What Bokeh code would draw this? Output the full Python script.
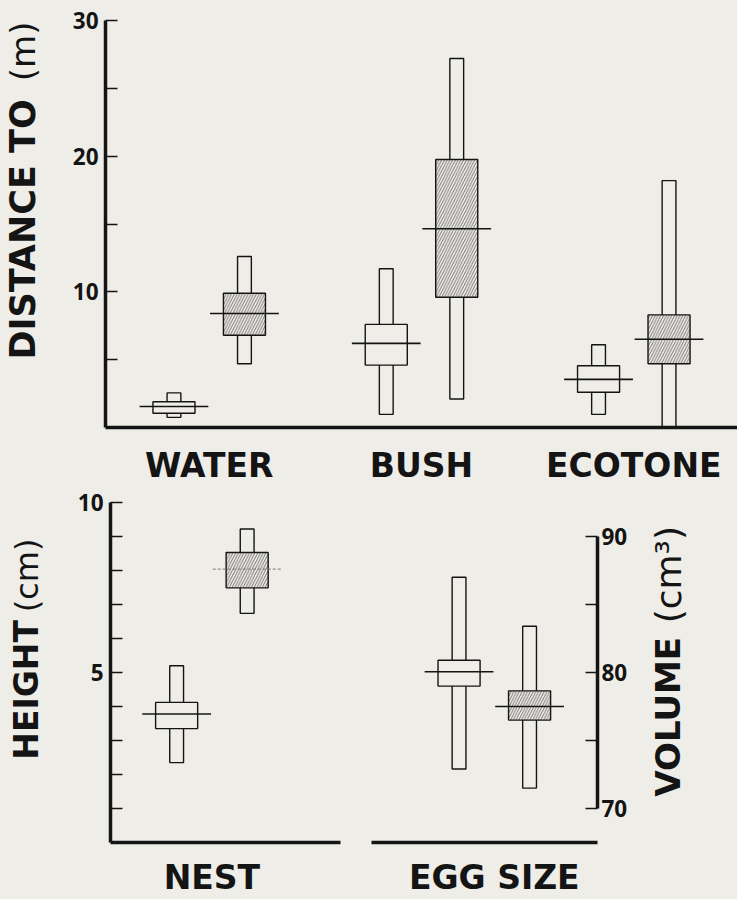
import math
from bokeh.plotting import figure
from bokeh.models import FixedTicker, Range1d
from bokeh.core.properties import value
from bokeh.layouts import column, row
from bokeh.embed import file_html
from bokeh.resources import INLINE

# ---------------- data ----------------
# Top panel: distance (m) from nest to water, bush, ecotone
dist_categories = ["WATER", "BUSH", "ECOTONE"]
dist_ticks = [10, 20, 30]
dist_minor_ticks = [5, 15, 25]
# open symbols
dist_open_min = [0.75, 0.97, 0.97]
dist_open_max = [2.55, 11.7, 6.1]
dist_open_box_lo = [1.05, 4.6, 2.6]
dist_open_box_hi = [1.9, 7.6, 4.55]
dist_open_mean = [1.55, 6.2, 3.55]
# hatched symbols
dist_hatch_min = [4.7, 2.1, 0.0]
dist_hatch_max = [12.6, 27.2, 18.2]
dist_hatch_box_lo = [6.8, 9.6, 4.7]
dist_hatch_box_hi = [9.9, 19.75, 8.3]
dist_hatch_mean = [8.4, 14.65, 6.5]

# Bottom left: nest height (cm)
nest_categories = ["NEST"]
height_ticks = [5, 10]
height_minor_ticks = [1, 2, 3, 4, 6, 7, 8, 9]
nest_open_min = [2.35]
nest_open_max = [5.2]
nest_open_box_lo = [3.35]
nest_open_box_hi = [4.12]
nest_open_mean = [3.78]
nest_hatch_min = [6.74]
nest_hatch_max = [9.22]
nest_hatch_box_lo = [7.49]
nest_hatch_box_hi = [8.53]
nest_hatch_mean = [8.04]

# Bottom right: egg volume (cm3)
egg_categories = ["EGG SIZE"]
volume_ticks = [70, 80, 90]
volume_minor_ticks = [75, 85]
egg_open_min = [72.9]
egg_open_max = [87.0]
egg_open_box_lo = [79.0]
egg_open_box_hi = [80.9]
egg_open_mean = [80.05]
egg_hatch_min = [71.5]
egg_hatch_max = [83.4]
egg_hatch_box_lo = [76.5]
egg_hatch_box_hi = [78.65]
egg_hatch_mean = [77.5]

# axis titles (bold part, light part)
dist_title = ("DISTANCE TO", "(m)")
height_title = ("HEIGHT", "(cm)")
volume_title = ("VOLUME", "(cm³)")

# ---------------- style / layout ----------------
BG = "#efede8"
INK = "#141414"
BOLD_FONT = "DejaVu Sans"
NUM_FONT = "Open Sans"
RANGE_W = 0.065
BOX_W = 0.198
MEAN_HALF = 0.162
PAIR_OFF = 0.166
W, H = 737, 899


def SX(v):
    return v * W / 753.0


def SY(v):
    return v * H / 915.0


def base_fig(width, height, x_range, y_range, borders, y_loc="left"):
    p = figure(width=width, height=height, x_range=x_range, y_range=y_range,
               output_backend="svg", toolbar_location=None,
               y_axis_location=y_loc,
               min_border_left=borders[0], min_border_right=borders[1],
               min_border_top=borders[2], min_border_bottom=borders[3])
    p.background_fill_color = BG
    p.border_fill_color = BG
    p.outline_line_color = None
    p.xgrid.visible = False
    p.ygrid.visible = False
    return p


def style_value_axis(ax, ticks, minor, standoff):
    ax.ticker = FixedTicker(ticks=ticks, minor_ticks=minor)
    ax.axis_line_width = 3.5
    ax.axis_line_color = INK
    ax.major_tick_in = 12
    ax.major_tick_out = 0
    ax.minor_tick_in = 12
    ax.minor_tick_out = 0
    ax.major_tick_line_width = 1.5
    ax.minor_tick_line_width = 1.5
    ax.major_tick_line_color = INK
    ax.minor_tick_line_color = INK
    ax.major_label_text_font = NUM_FONT
    ax.major_label_text_font_style = "bold"
    ax.major_label_text_font_size = "22.5px"
    ax.major_label_text_color = INK
    ax.major_label_standoff = standoff


def style_cat_axis(ax, cats, standoff):
    pos = list(range(1, len(cats) + 1))
    ax.ticker = FixedTicker(ticks=pos, minor_ticks=[])
    ax.major_label_overrides = {i: c for i, c in zip(pos, cats)}
    ax.axis_line_width = 3.5
    ax.axis_line_color = INK
    ax.major_tick_in = 0
    ax.major_tick_out = 0
    ax.minor_tick_in = 0
    ax.minor_tick_out = 0
    ax.major_label_text_font = BOLD_FONT
    ax.major_label_text_font_style = "bold"
    ax.major_label_text_font_size = "33px"
    ax.major_label_text_color = INK
    ax.major_label_standoff = standoff


def draw_symbols(p, n, side, lo, hi, box_lo, box_hi, mean, hatched,
                 mean_dash="solid", mean_color=INK, mean_width=1.6):
    xs = [i + 1 + side * PAIR_OFF for i in range(n)]
    p.vbar(x=xs, width=RANGE_W, bottom=lo, top=hi, fill_color=BG,
           line_color=INK, line_width=1.4)
    kw = {}
    if hatched:
        kw = dict(hatch_pattern="right_diagonal_line", hatch_color="#4a4a4a",
                  hatch_weight=0.75, hatch_scale=5.5)
    p.vbar(x=xs, width=BOX_W, bottom=box_lo, top=box_hi, fill_color=BG,
           line_color=INK, line_width=1.4, **kw)
    p.segment(x0=[x - MEAN_HALF for x in xs], x1=[x + MEAN_HALF for x in xs],
              y0=mean, y1=mean, line_color=mean_color, line_width=mean_width,
              line_dash=mean_dash)


def title_fig(width, height, row_top, border_top, border_bottom, cx,
              y_bottom, y_top, title, bold_size, light_size):
    """Narrow panel holding a vertical axis title.

    Its frame is aligned with the neighbouring plot's frame, so the y range is
    expressed in absolute (page) pixels, growing downward."""
    f_top = row_top + border_top
    f_bot = row_top + height - border_bottom
    f = figure(width=width, height=height, x_range=Range1d(0, width),
               y_range=Range1d(f_bot, f_top), output_backend="svg",
               toolbar_location=None, x_axis_location=None, y_axis_location=None,
               min_border_left=0, min_border_right=0, min_border_top=border_top,
               min_border_bottom=border_bottom)
    f.background_fill_color = BG
    f.border_fill_color = BG
    f.outline_line_color = None
    f.grid.visible = False
    f.text(x=[cx], y=[min(y_bottom, f_bot - 1)], text=[title[0]], angle=math.pi / 2,
           text_align="left", text_baseline="middle", text_font=value(BOLD_FONT),
           text_font_style="bold", text_font_size=value(bold_size), text_color=INK)
    f.text(x=[cx], y=[max(y_top, f_top + 1)], text=[title[1]], angle=math.pi / 2,
           text_align="right", text_baseline="middle", text_font=value(BOLD_FONT),
           text_font_style="normal", text_font_size=value(light_size), text_color=INK)
    return f


# ---------------- top panel ----------------
TOP_H = round(SY(496))            # 487
LAB_W = 68
t_top = round(SY(20))
t_bot = TOP_H - round(SY(437.5))
p1 = base_fig(W - LAB_W, TOP_H, Range1d(0.5115, 3.4885), Range1d(0, 30),
              (round(SX(107)) - LAB_W, 0, t_top, t_bot))
style_value_axis(p1.yaxis[0], dist_ticks, dist_minor_ticks, 7)
style_cat_axis(p1.xaxis[0], dist_categories, 18)
n = len(dist_categories)
draw_symbols(p1, n, -1, dist_open_min, dist_open_max, dist_open_box_lo,
             dist_open_box_hi, dist_open_mean, False)
draw_symbols(p1, n, 1, dist_hatch_min, dist_hatch_max, dist_hatch_box_lo,
             dist_hatch_box_hi, dist_hatch_mean, True)
t1 = title_fig(LAB_W, TOP_H, 0, t_top, t_bot, SX(23), SY(368), SY(13), dist_title,
               "35px", "34px")

# ---------------- bottom row ----------------
BOT_H = H - TOP_H                 # 412
b_top = round(SY(511)) - TOP_H
b_bot = H - round(SY(860))
P2_END = 355
P3_END = 631
p2 = base_fig(P2_END - LAB_W, BOT_H, Range1d(0.5226, 1.6055), Range1d(0, 10),
              (110 - LAB_W, P2_END - 340, b_top, b_bot))
style_value_axis(p2.yaxis[0], height_ticks, height_minor_ticks, 7)
style_cat_axis(p2.xaxis[0], nest_categories, 15)
draw_symbols(p2, 1, -1, nest_open_min, nest_open_max, nest_open_box_lo,
             nest_open_box_hi, nest_open_mean, False)
draw_symbols(p2, 1, 1, nest_hatch_min, nest_hatch_max, nest_hatch_box_lo,
             nest_hatch_box_hi, nest_hatch_mean, True,
             mean_dash="3 2", mean_color="#777777", mean_width=1.0)
t2 = title_fig(LAB_W, BOT_H, TOP_H, b_top, b_bot, SX(27), SY(775), SY(548),
               height_title, "33px", "32px")

p3 = base_fig(P3_END - P2_END, BOT_H, Range1d(0.4218, 1.4858), Range1d(67.5, 92.5),
              (371 - P2_END, P3_END - 597, b_top, b_bot), y_loc="right")
style_value_axis(p3.yaxis[0], volume_ticks, volume_minor_ticks, 4)
p3.yaxis[0].bounds = (volume_ticks[0], volume_ticks[-1])
style_cat_axis(p3.xaxis[0], egg_categories, 15)
draw_symbols(p3, 1, -1, egg_open_min, egg_open_max, egg_open_box_lo,
             egg_open_box_hi, egg_open_mean, False)
draw_symbols(p3, 1, 1, egg_hatch_min, egg_hatch_max, egg_hatch_box_lo,
             egg_hatch_box_hi, egg_hatch_mean, True)
t3 = title_fig(W - P3_END, BOT_H, TOP_H, b_top, b_bot, SX(682) - P3_END,
               SY(813), SY(535), volume_title, "34px", "36px")

layout = column(row(t1, p1, spacing=0), row(t2, p2, p3, t3, spacing=0), spacing=0)
layout.background = BG

open("out.html", "w").write(file_html(layout, INLINE))
